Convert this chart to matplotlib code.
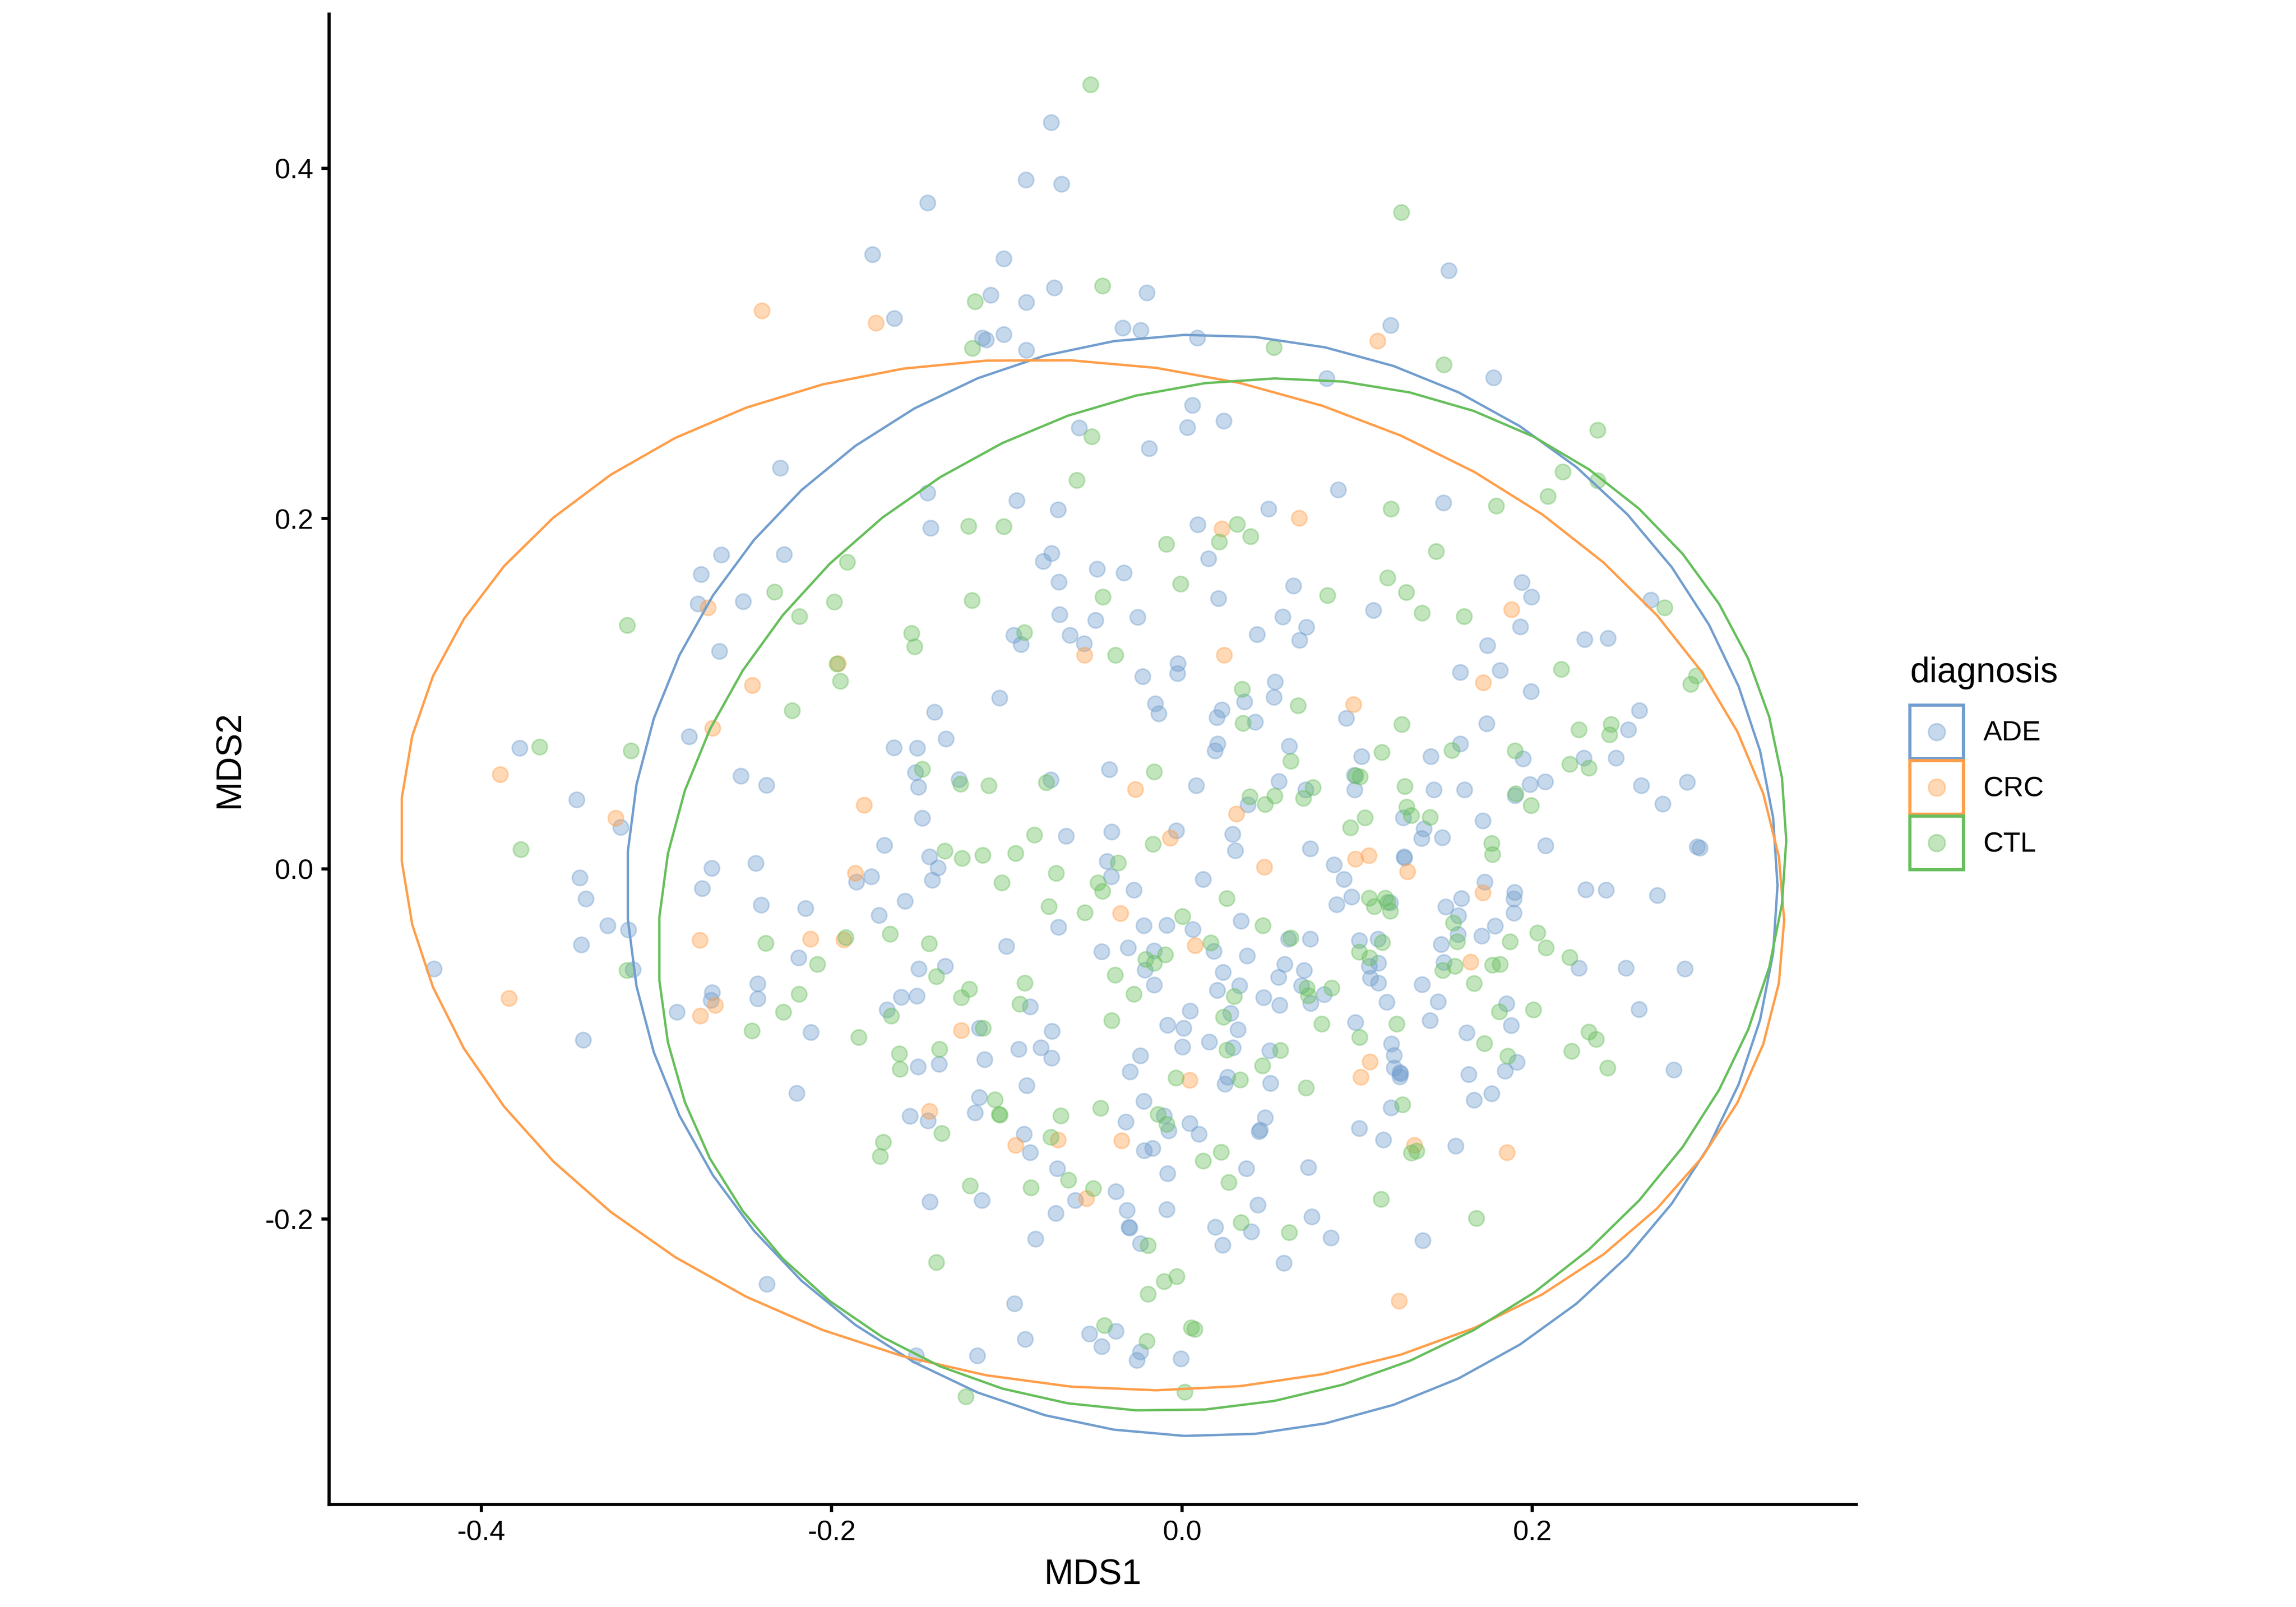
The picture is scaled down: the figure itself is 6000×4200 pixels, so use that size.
import numpy as np
import matplotlib
matplotlib.use("Agg")
import matplotlib.pyplot as plt
from matplotlib.patches import Rectangle
from matplotlib.lines import Line2D
from matplotlib.legend_handler import HandlerBase
from matplotlib.ticker import FixedLocator, FormatStrFormatter

plt.rcParams['font.family'] = ['Liberation Sans', 'DejaVu Sans']
plt.rcParams['axes.unicode_minus'] = False

# ---------------- data ----------------
groups = ['ADE', 'CRC', 'CTL']
group_colors = ['#729ECE', '#FF9E4A', '#67BF5C']

ade_pts = [
    (-0.2294, 0.2288),
    (-0.0747, 0.4261), (-0.0892, 0.3933), (-0.0688, 0.3910), (-0.1452, 0.3803), (-0.1767, 0.3508),
    (-0.1018, 0.3484), (-0.0730, 0.3318), (-0.0200, 0.3290), (-0.1093, 0.3276), (-0.0889, 0.3235),
    (-0.1643, 0.3142), (-0.0339, 0.3088), (-0.0235, 0.3076), (0.0087, 0.3031), (-0.1140, 0.3031),
    (-0.1118, 0.3021), (-0.1018, 0.3052), (-0.0889, 0.2962), (0.0059, 0.2646), (0.0238, 0.2558),
    (0.0031, 0.2521), (-0.0588, 0.2518), (-0.0187, 0.2400), (-0.1452, 0.2146), (-0.0943, 0.2102),
    (-0.0707, 0.2050), (0.0494, 0.2055),
    (0.1524, 0.3415), (0.1190, 0.3104), (0.0827, 0.2801), (0.1778, 0.2805), (0.0891, 0.2165), (0.1492, 0.2089),
    (-0.1434, 0.1945), (0.0091, 0.1966), (-0.0744, 0.1802), (-0.0792, 0.1755), (0.0151, 0.1770),
    (-0.0484, 0.1712), (-0.0332, 0.1691), (-0.0703, 0.1637), (0.0637, 0.1615), (0.0208, 0.1544),
    (-0.0698, 0.1453), (-0.0494, 0.1420), (-0.0254, 0.1437), (0.0574, 0.1439), (-0.0961, 0.1335),
    (-0.0919, 0.1282), (-0.0640, 0.1333), (-0.0558, 0.1285), (0.0428, 0.1339), (-0.0023, 0.1173),
    (-0.0025, 0.1116), (-0.0225, 0.1097), (-0.1041, 0.0976), (0.0532, 0.1067), (0.0525, 0.0981),
    (0.0357, 0.0953), (-0.0152, 0.0943), (-0.0132, 0.0886), (0.0228, 0.0908), (0.0199, 0.0865),
    (0.0418, 0.0839), (-0.1414, 0.0895), (-0.1347, 0.0741), (-0.1645, 0.0692), (-0.1511, 0.0689),
    (-0.1523, 0.0549), (-0.1504, 0.0466), (-0.1274, 0.0511), (-0.0749, 0.0508), (0.0203, 0.0713),
    (0.0188, 0.0675), (0.0612, 0.0701), (-0.0414, 0.0568), (0.0081, 0.0475), (0.0554, 0.0499),
    (0.0377, 0.0366), (-0.1483, 0.0290), (-0.0401, 0.0212), (-0.0033, 0.0217), (0.0288, 0.0197),
    (0.0305, 0.0103), (-0.0662, 0.0186), (-0.1700, 0.0134), (-0.1441, 0.0069), (-0.1394, 0.0006),
    (-0.1427, -0.0064), (-0.1859, -0.0075), (-0.1774, -0.0045), (-0.0428, 0.0043), (-0.0404, -0.0045),
    (-0.0275, -0.0121), (0.0121, -0.0059), (-0.1581, -0.0185), (-0.1730, -0.0265), (0.0337, -0.0299),
    (-0.0705, -0.0334), (-0.0219, -0.0324), (-0.0088, -0.0322), (0.0061, -0.0346), (-0.1003, -0.0443),
    (-0.0458, -0.0472), (-0.0307, -0.0451), (0.0181, -0.0470), (-0.0160, -0.0469), (-0.0212, -0.0577),
    (0.0372, -0.0496), (0.0607, -0.0400), (0.0586, -0.0546), (0.0550, -0.0619), (0.0235, -0.0590),
    (-0.1503, -0.0572), (-0.1352, -0.0555),
    (0.1093, 0.1477), (0.1941, 0.1636), (0.1996, 0.1553), (0.1932, 0.1382), (0.0710, 0.1380),
    (0.0672, 0.1306), (0.2676, 0.1536), (0.1743, 0.1276), (0.2298, 0.1311), (0.2432, 0.1316),
    (0.1588, 0.1121), (0.1817, 0.1133), (0.1994, 0.1012), (0.0937, 0.0860), (0.1740, 0.0829),
    (0.2611, 0.0903), (0.2547, 0.0794), (0.1024, 0.0641), (0.1421, 0.0642), (0.1588, 0.0713),
    (0.1946, 0.0628), (0.2295, 0.0632), (0.2477, 0.0632), (0.0983, 0.0535), (0.0707, 0.0452),
    (0.0986, 0.0451), (0.1439, 0.0452), (0.1613, 0.0452), (0.1987, 0.0482), (0.2074, 0.0497),
    (0.1902, 0.0419), (0.2623, 0.0475), (0.2884, 0.0494), (0.2745, 0.0371), (0.1263, 0.0292),
    (0.1382, 0.0228), (0.1369, 0.0174), (0.1487, 0.0178), (0.1717, 0.0274), (0.2076, 0.0133),
    (0.2942, 0.0126), (0.2957, 0.0119), (0.0733, 0.0114), (0.1268, 0.0070), (0.1270, 0.0063),
    (0.0867, 0.0024), (0.0924, -0.0059), (0.0969, -0.0161), (0.0882, -0.0204), (0.1188, -0.0194),
    (0.1728, -0.0076), (0.1900, -0.0135), (0.1894, -0.0171), (0.1895, -0.0253), (0.1596, -0.0170),
    (0.1506, -0.0218), (0.1578, -0.0267), (0.1576, -0.0375), (0.1479, -0.0432), (0.1711, -0.0384),
    (0.1788, -0.0327), (0.2265, -0.0567), (0.2305, -0.0118), (0.2422, -0.0121), (0.2713, -0.0152),
    (0.2534, -0.0567), (0.2872, -0.0571), (0.0733, -0.0401), (0.1011, -0.0410), (0.1118, -0.0400),
    (0.1121, -0.0539), (0.1068, -0.0555), (0.0697, -0.0581), (0.1494, -0.0533),
    (-0.2630, 0.1793), (-0.2272, 0.1796), (-0.2746, 0.1681), (-0.2764, 0.1513), (-0.2506, 0.1527),
    (-0.2640, 0.1242), (-0.2814, 0.0755), (-0.3782, 0.0689), (-0.2518, 0.0530), (-0.2373, 0.0478),
    (-0.3456, 0.0395), (-0.3205, 0.0238), (-0.2685, 0.0003), (-0.2433, 0.0031), (-0.3439, -0.0051),
    (-0.2739, -0.0113), (-0.3404, -0.0171), (-0.2403, -0.0206), (-0.2149, -0.0227), (-0.3279, -0.0324),
    (-0.3160, -0.0348), (-0.3429, -0.0434), (-0.2189, -0.0507), (-0.4270, -0.0572), (-0.3135, -0.0576),
    (-0.3419, -0.0978), (-0.2883, -0.0817), (-0.2682, -0.0706), (-0.2690, -0.0750), (-0.2423, -0.0656),
    (-0.2423, -0.0741), (-0.2119, -0.0934), (-0.2199, -0.1282), (-0.2371, -0.2372),
    (-0.0160, -0.0663), (0.0328, -0.0667), (0.0201, -0.0693), (0.0465, -0.0736), (0.0557, -0.0779),
    (-0.1603, -0.0732), (-0.1514, -0.0727), (-0.1685, -0.0805), (-0.0867, -0.0788), (-0.0083, -0.0893),
    (0.0047, -0.0812), (0.0009, -0.0910), (0.0002, -0.1016), (0.0278, -0.0824), (0.0320, -0.0919),
    (0.0156, -0.0988), (0.0291, -0.1021), (0.0500, -0.1038), (0.0504, -0.1225), (-0.0237, -0.1067),
    (-0.0297, -0.1159), (0.0261, -0.1190), (0.0245, -0.1228), (-0.1508, -0.1131), (-0.1387, -0.1116),
    (-0.1157, -0.0909), (-0.1126, -0.1090), (-0.0932, -0.1029), (-0.0805, -0.1021), (-0.0742, -0.0928),
    (-0.0745, -0.1081), (-0.0886, -0.1237), (-0.1157, -0.1306), (-0.1182, -0.1392), (-0.1451, -0.1439),
    (-0.1554, -0.1413), (-0.0321, -0.1446), (-0.0219, -0.1328), (-0.0103, -0.1410), (-0.0076, -0.1496),
    (0.0044, -0.1454), (0.0097, -0.1515), (0.0474, -0.1420), (0.0439, -0.1499), (0.0445, -0.1492),
    (-0.0902, -0.1515), (-0.0867, -0.1619), (-0.0217, -0.1610), (-0.0167, -0.1596), (0.0368, -0.1712),
    (-0.0083, -0.1740), (-0.0712, -0.1712), (-0.0610, -0.1892), (-0.0720, -0.1968), (-0.0377, -0.1843),
    (-0.0314, -0.1950), (-0.0304, -0.2045), (-0.0300, -0.2050), (-0.0237, -0.2140), (-0.0087, -0.1945),
    (0.0432, -0.1919), (0.0395, -0.2073), (0.0191, -0.2045), (0.0231, -0.2149), (0.0582, -0.2251),
    (-0.1439, -0.1902), (-0.1143, -0.1893), (-0.0836, -0.2113), (-0.0956, -0.2482), (-0.0896, -0.2685),
    (-0.0528, -0.2655), (-0.0377, -0.2641), (-0.0459, -0.2728), (-0.0237, -0.2759), (-0.0257, -0.2806),
    (-0.0006, -0.2797), (-0.1168, -0.2780), (-0.1519, -0.2780),
    (0.1076, -0.0623), (0.1121, -0.0651), (0.1370, -0.0660), (0.0683, -0.0668), (0.0735, -0.0767),
    (0.0812, -0.0718), (0.1170, -0.0762), (0.1462, -0.0758), (0.1852, -0.0770), (0.2608, -0.0803),
    (0.0991, -0.0876), (0.1416, -0.0867), (0.1626, -0.0936), (0.1880, -0.0895), (0.2808, -0.1147),
    (0.1195, -0.1000), (0.1210, -0.1064), (0.1210, -0.1138), (0.1243, -0.1163), (0.1248, -0.1170),
    (0.1243, -0.1187), (0.1636, -0.1175), (0.1845, -0.1154), (0.1912, -0.1105), (0.1767, -0.1283),
    (0.1668, -0.1320), (0.1193, -0.1365), (0.1011, -0.1482), (0.1150, -0.1548), (0.1563, -0.1582),
    (0.0722, -0.1705), (0.0740, -0.1988), (0.0850, -0.2108), (0.1375, -0.2123),
]

crc_pts = [
    (-0.2398, 0.3187), (-0.1748, 0.3117), (0.0668, 0.2003), (0.1116, 0.3014), (0.0228, 0.1942),
    (-0.0556, 0.1221), (0.0241, 0.1221), (-0.0267, 0.0454), (0.0310, 0.0314), (-0.1815, 0.0364),
    (-0.0068, 0.0176), (0.0470, 0.0010), (-0.1865, -0.0026), (-0.0351, -0.0254), (0.0074, -0.0438),
    (0.1882, 0.1480), (0.1720, 0.1064), (0.0979, 0.0938), (0.0991, 0.0055), (0.1066, 0.0076),
    (0.1287, -0.0016), (0.1717, -0.0137), (0.1648, -0.0531), (-0.2707, 0.1491), (-0.1963, 0.1173),
    (-0.2453, 0.1048), (-0.2680, 0.0803), (-0.3893, 0.0539), (-0.3234, 0.0290), (-0.2752, -0.0408),
    (-0.2122, -0.0400), (-0.1930, -0.0405), (-0.3842, -0.0739), (-0.2751, -0.0839), (-0.2665, -0.0779),
    (0.0045, -0.1207), (-0.1260, -0.0924), (-0.1442, -0.1384), (-0.0951, -0.1579), (-0.0707, -0.1548),
    (-0.0344, -0.1553), (-0.0546, -0.1881), (0.1074, -0.1102), (0.1021, -0.1190), (0.1327, -0.1579),
    (0.1855, -0.1619), (0.1240, -0.2467),
]

ctl_pts = [
    (-0.0521, 0.4477), (-0.0454, 0.3328), (-0.1182, 0.3240), (-0.1197, 0.2972), (0.0525, 0.2977),
    (-0.0515, 0.2468), (-0.0600, 0.2219),
    (0.1252, 0.3748), (0.1494, 0.2879), (0.2372, 0.2504), (0.2175, 0.2266), (0.2374, 0.2217),
    (0.2088, 0.2126), (0.1193, 0.2055), (0.1795, 0.2072),
    (-0.1218, 0.1957), (-0.1018, 0.1954), (0.0316, 0.1967), (0.0392, 0.1898), (0.0213, 0.1867),
    (-0.0090, 0.1853), (-0.1912, 0.1751), (-0.0008, 0.1627), (-0.0451, 0.1553), (-0.1198, 0.1532),
    (-0.1544, 0.1345), (-0.1526, 0.1268), (-0.0899, 0.1349), (-0.0379, 0.1221), (0.0343, 0.1026),
    (0.0348, 0.0832), (-0.1484, 0.0570), (-0.1265, 0.0483), (-0.1103, 0.0475), (-0.0775, 0.0492),
    (0.0621, 0.0615), (-0.0160, 0.0554), (0.0387, 0.0411), (0.0529, 0.0416), (0.0474, 0.0369),
    (-0.0165, 0.0141), (-0.0842, 0.0193), (-0.1354, 0.0102), (-0.1255, 0.0060), (-0.1138, 0.0077),
    (-0.0951, 0.0089), (-0.0718, -0.0026), (-0.0364, 0.0034), (-0.0481, -0.0080), (-0.0454, -0.0128),
    (-0.1029, -0.0080), (0.0256, -0.0170), (-0.0760, -0.0215), (-0.0555, -0.0249), (0.0002, -0.0272),
    (0.0462, -0.0324), (-0.1667, -0.0372), (-0.1444, -0.0427), (0.0164, -0.0422), (-0.0095, -0.0491),
    (-0.0207, -0.0517), (-0.0160, -0.0538), (0.0621, -0.0394), (-0.1402, -0.0615), (-0.0382, -0.0607),
    (0.1452, 0.1812), (0.1173, 0.1662), (0.0830, 0.1561), (0.1280, 0.1579), (0.1370, 0.1461),
    (0.1611, 0.1440), (0.2756, 0.1492), (0.2165, 0.1140), (0.2937, 0.1102), (0.2905, 0.1055),
    (0.0663, 0.0931), (0.1255, 0.0825), (0.2265, 0.0794), (0.2450, 0.0825), (0.2440, 0.0765),
    (0.1141, 0.0665), (0.1541, 0.0677), (0.1902, 0.0675), (0.2213, 0.0597), (0.2322, 0.0575),
    (0.0993, 0.0532), (0.1016, 0.0525), (0.0748, 0.0464), (0.0693, 0.0404), (0.1273, 0.0470),
    (0.1905, 0.0430), (0.1992, 0.0362), (0.1044, 0.0292), (0.0962, 0.0235), (0.1283, 0.0352),
    (0.1310, 0.0304), (0.1417, 0.0295), (0.1768, 0.0145), (0.1773, 0.0081), (0.1069, -0.0168),
    (0.1161, -0.0166), (0.1098, -0.0215), (0.1173, -0.0192), (0.1188, -0.0241), (0.1549, -0.0308),
    (0.1571, -0.0417), (0.1872, -0.0417), (0.2029, -0.0365), (0.2078, -0.0450), (0.2213, -0.0505),
    (0.1143, -0.0420), (0.1013, -0.0474), (0.1071, -0.0507), (0.1489, -0.0581), (0.1559, -0.0555),
    (0.1773, -0.0550), (0.1815, -0.0545),
    (-0.2326, 0.1580), (-0.1986, 0.1523), (-0.2184, 0.1442), (-0.3167, 0.1390), (-0.1971, 0.1171),
    (-0.1951, 0.1071), (-0.2227, 0.0903), (-0.3668, 0.0696), (-0.3145, 0.0675), (-0.3774, 0.0110),
    (-0.2376, -0.0425), (-0.1921, -0.0393), (-0.2082, -0.0546), (-0.3169, -0.0581),
    (-0.2187, -0.0715), (-0.2277, -0.0819), (-0.2456, -0.0926),
    (-0.0897, -0.0651), (-0.0274, -0.0715), (0.0298, -0.0729), (-0.1215, -0.0686), (-0.1260, -0.0734),
    (-0.1661, -0.0841), (-0.1845, -0.0962), (-0.0926, -0.0772), (-0.0402, -0.0867), (0.0236, -0.0846),
    (0.0256, -0.1035), (0.0562, -0.1036), (0.0459, -0.1124), (-0.0035, -0.1194), (0.0332, -0.1204),
    (-0.1615, -0.1057), (-0.1610, -0.1143), (-0.1384, -0.1029), (-0.1136, -0.0910), (-0.1068, -0.1318),
    (-0.1043, -0.1401), (-0.1040, -0.1405), (-0.1371, -0.1511), (-0.1705, -0.1560), (-0.1723, -0.1641),
    (-0.0692, -0.1410), (-0.0466, -0.1366), (-0.0137, -0.1401), (-0.0087, -0.1458), (-0.0750, -0.1532),
    (0.0121, -0.1669), (0.0223, -0.1617), (0.0268, -0.1791), (-0.0648, -0.1778), (-0.0862, -0.1821),
    (-0.0506, -0.1826), (-0.0193, -0.2151), (0.0337, -0.2019), (0.0612, -0.2076), (-0.1210, -0.1809),
    (-0.1402, -0.2246), (-0.0031, -0.2327), (-0.0103, -0.2356), (-0.0193, -0.2429), (-0.0444, -0.2607),
    (-0.0200, -0.2697), (0.0052, -0.2621), (0.0072, -0.2629), (-0.1235, -0.3013), (0.0015, -0.2987),
    (0.1668, -0.0655), (0.0712, -0.0680), (0.0722, -0.0724), (0.0855, -0.0680), (0.1812, -0.0815),
    (0.2006, -0.0805), (0.0797, -0.0886), (0.1014, -0.0962), (0.1225, -0.0886), (0.1727, -0.0997),
    (0.2323, -0.0931), (0.2364, -0.0974), (0.2225, -0.1042), (0.2430, -0.1137), (0.0708, -0.1251),
    (0.1860, -0.1069), (0.1258, -0.1347), (0.1310, -0.1622), (0.1340, -0.1612), (0.1136, -0.1886),
    (0.1680, -0.1995),
]

# 95% ellipse parameters per group (centre, semi-axes, correlation)
ell_cx = [0.0115, -0.0512, 0.0230]
ell_cy = [-0.0095, -0.0035, -0.0148]
ell_ax = [0.3285, 0.3950, 0.3220]
ell_ay = [0.3145, 0.2943, 0.2948]
ell_rho = [0.0, -0.088, 0.105]

x_ticks = [-0.4, -0.2, 0.0, 0.2]
y_ticks = [-0.2, 0.0, 0.2, 0.4]

# ---------------- figure ----------------
fig = plt.figure(figsize=(20, 14), dpi=300)
ax = fig.add_axes([0.1433, 0.0638, 0.6652, 0.9274])

point_sets = [ade_pts, crc_pts, ctl_pts]
for pts, col in zip(point_sets, group_colors):
    arr = np.array(pts)
    rgba = matplotlib.colors.to_rgba(col, 0.4)
    ax.scatter(arr[:, 0], arr[:, 1], s=92, facecolors=[rgba], edgecolors=[rgba],
               linewidths=1.0, zorder=2)

theta = np.linspace(0, 2 * np.pi, 52)
for i, col in enumerate(group_colors):
    r = ell_rho[i]
    ex = ell_cx[i] + ell_ax[i] * np.cos(theta)
    ey = ell_cy[i] + ell_ay[i] * (r * np.cos(theta) + np.sqrt(1 - r * r) * np.sin(theta))
    ax.plot(ex, ey, color=col, lw=1.5, zorder=3, solid_joinstyle='miter')

ax.set_xlim(-0.487, 0.385)
ax.set_ylim(-0.363, 0.488)
ax.xaxis.set_major_locator(FixedLocator(x_ticks))
ax.yaxis.set_major_locator(FixedLocator(y_ticks))
ax.xaxis.set_major_formatter(FormatStrFormatter('%.1f'))
ax.yaxis.set_major_formatter(FormatStrFormatter('%.1f'))

for side in ['top', 'right']:
    ax.spines[side].set_visible(False)
for side in ['left', 'bottom']:
    ax.spines[side].set_linewidth(2.0)
    ax.spines[side].set_color('black')
ax.tick_params(axis='both', which='major', length=4.8, width=2.0, color='black',
               labelsize=17.6, labelcolor='black', pad=5)
ax.set_xlabel('MDS1', fontsize=22, labelpad=8)
ax.set_ylabel('MDS2', fontsize=22, labelpad=12)


class KeyHandler(HandlerBase):
    def __init__(self, color):
        super().__init__()
        self.color = color

    def create_artists(self, legend, orig_handle, xdescent, ydescent, width, height, fontsize, trans):
        rect = Rectangle((-xdescent, -ydescent), width, height, facecolor='white',
                         edgecolor=self.color, lw=2.0, transform=trans)
        rgba = matplotlib.colors.to_rgba(self.color, 0.4)
        dot = Line2D([width / 2 - xdescent], [height / 2 - ydescent], marker='o', ms=10.5,
                     mfc=rgba, mec=rgba, mew=1.0, ls='none', transform=trans)
        return [rect, dot]


handles = [Line2D([], []) for _ in groups]
hmap = {h: KeyHandler(c) for h, c in zip(handles, group_colors)}
leg = fig.legend(handles, groups, handler_map=hmap, loc='upper left',
                 bbox_to_anchor=(4991 / 6000, 1 - 1843 / 4200), frameon=False,
                 fontsize=17.6, handlelength=1.91, handleheight=2.56, labelspacing=0.07,
                 handletextpad=0.7, borderpad=0, borderaxespad=0)
fig.text(4991 / 6000, 1 - 1783 / 4200, 'diagnosis', fontsize=22, ha='left', va='baseline')

fig.savefig('out.png', dpi=300)
